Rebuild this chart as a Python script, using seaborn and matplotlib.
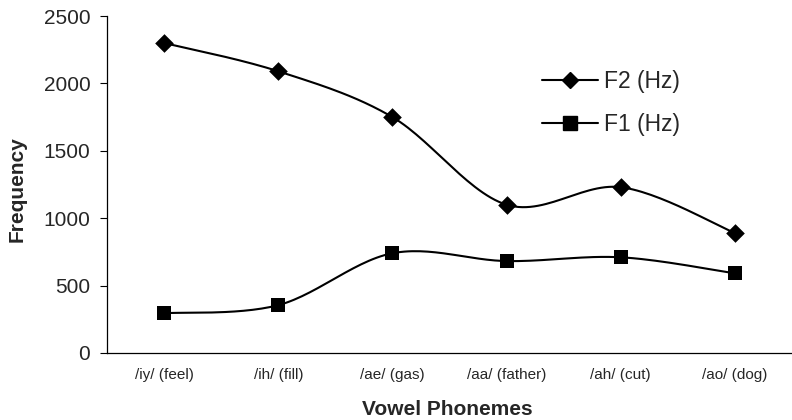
import numpy as np
import pandas as pd
import matplotlib
matplotlib.use("Agg")
import matplotlib.pyplot as plt
from matplotlib.lines import Line2D
import seaborn as sns

categories = ["/iy/ (feel)", "/ih/ (fill)", "/ae/ (gas)", "/aa/ (father)", "/ah/ (cut)", "/ao/ (dog)"]
f2_values = [2300, 2090, 1750, 1100, 1230, 890]
f1_values = [295, 355, 740, 682, 710, 591]
series_names = ["F2 (Hz)", "F1 (Hz)"]
y_ticks = [0, 500, 1000, 1500, 2000, 2500]

sns.set_theme(style="white")
plt.rcParams["font.family"] = ["Liberation Sans", "DejaVu Sans"]


def smooth(xs, ys, n=30):
    # Bezier smoothing similar to spreadsheet "smoothed line" rendering
    xs = np.asarray(xs, float)
    ys = np.asarray(ys, float)
    px, py = [], []
    m = len(xs)
    for i in range(m - 1):
        p0 = np.array([xs[max(i - 1, 0)], ys[max(i - 1, 0)]])
        p1 = np.array([xs[i], ys[i]])
        p2 = np.array([xs[i + 1], ys[i + 1]])
        p3 = np.array([xs[min(i + 2, m - 1)], ys[min(i + 2, m - 1)]])
        c1 = p1 + (p2 - p0) / 6.0
        c2 = p2 - (p3 - p1) / 6.0
        t = np.linspace(0, 1, n)[:, None]
        pts = ((1 - t) ** 3) * p1 + 3 * ((1 - t) ** 2) * t * c1 + 3 * (1 - t) * t ** 2 * c2 + t ** 3 * p2
        if i > 0:
            pts = pts[1:]
        px.extend(pts[:, 0])
        py.extend(pts[:, 1])
    return np.array(px), np.array(py)


x = np.arange(len(categories))
fig = plt.figure(figsize=(7.92, 4.2), dpi=100)
ax = fig.add_axes([107 / 792, 1 - 353 / 420, 685 / 792, (353 - 16) / 420])

markers = {"F2 (Hz)": "D", "F1 (Hz)": "s"}
msizes = {"F2 (Hz)": 90, "F1 (Hz)": 92}
for name, vals in zip(series_names, [f2_values, f1_values]):
    sx, sy = smooth(x, vals)
    sns.lineplot(x=sx, y=sy, ax=ax, color="black", linewidth=1.5, sort=False, estimator=None)
    sns.scatterplot(x=x, y=vals, ax=ax, marker=markers[name], s=msizes[name],
                    color="black", edgecolor="black", linewidth=0, zorder=5)

ax.set_xlim(-0.5, 5.457)
ax.set_ylim(0, 2500)
ax.set_yticks(y_ticks)
ax.set_yticklabels([str(t) for t in y_ticks], fontsize=15)
ax.set_xticks(np.arange(len(categories) + 1) - 0.5)
ax.set_xticklabels([])
ax.set_xticks(x, minor=True)
ax.set_xticklabels(categories, minor=True, fontsize=11)
ax.tick_params(axis="x", which="minor", length=0, pad=11)
ax.tick_params(axis="x", which="major", length=4, width=0.8, color="black", direction="out")
ax.tick_params(axis="y", length=5, width=0.8, color="black", direction="out", left=True, pad=7)
for s in ["top", "right"]:
    ax.spines[s].set_visible(False)
for s in ["left", "bottom"]:
    ax.spines[s].set_color("black")
    ax.spines[s].set_linewidth(0.9)

ax.set_ylabel("Frequency", fontsize=15, fontweight="bold")
ax.yaxis.set_label_coords(-0.117, 0.487)
ax.set_xlabel("Vowel Phonemes", fontsize=15, fontweight="bold")
ax.xaxis.set_label_coords(0.497, -0.139)

handles = [Line2D([0], [0], color="black", lw=1.5, marker="D", markersize=8.5),
           Line2D([0], [0], color="black", lw=1.5, marker="s", markersize=9.5)]
fig.legend(handles, series_names, loc="center left", bbox_to_anchor=(521 / 792, 1 - 103 / 420),
           frameon=False, fontsize=16.5, handlelength=2.45, labelspacing=0.85, handletextpad=0.26)

fig.savefig("out.png", dpi=100)
